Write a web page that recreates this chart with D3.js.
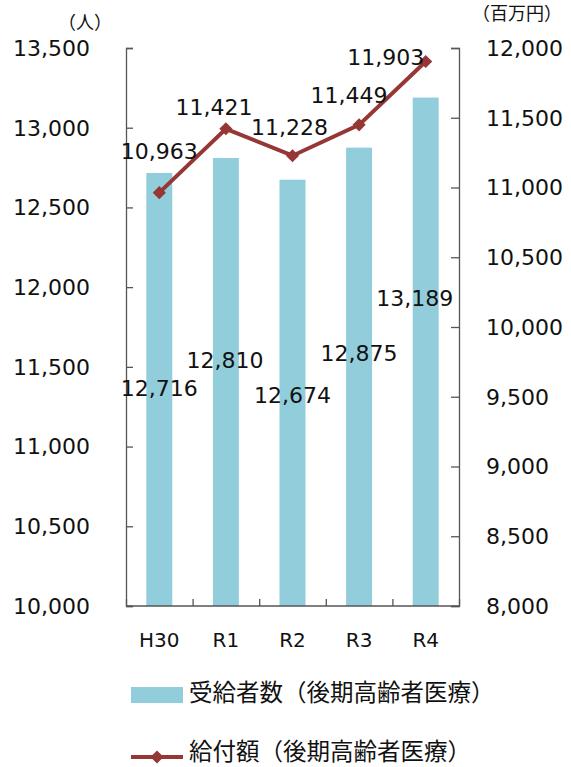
<!DOCTYPE html>
<html><head><meta charset="utf-8">
<script src="https://cdn.jsdelivr.net/npm/d3@7"></script>
<style>
body{margin:0;background:#fff;}
text{font-family:"DejaVu Sans","Noto Sans CJK JP",sans-serif;fill:#111;}
</style></head>
<body><svg id="c" width="571" height="767"></svg>
<script>
const categories = ["H30","R1","R2","R3","R4"];
const recipients = [12716,12810,12674,12875,13189];
const benefits = [10963,11421,11228,11449,11903];
const leftTicks = [10000,10500,11000,11500,12000,12500,13000,13500];
const rightTicks = [8000,8500,9000,9500,10000,10500,11000,11500,12000];
const barName = "受給者数（後期高齢者医療）";
const lineName = "給付額（後期高齢者医療）";
const leftUnit = "（人）";
const rightUnit = "（百万円）";
// label offsets (px) relative to the mark, to mimic reference placement
const barLabelPos = [[0,215],[-1,202],[0,215],[0,205],[-11,200]];
const lineLabelPos = [[0,-42],[-12,-22],[-3,-29],[-10,-30],[-40,-4]];

const svg = d3.select("#c");
const L = 126, R = 459, T = 48, B = 606;
const x = d3.scaleBand().domain(categories).range([L,R]).paddingInner(0.61).paddingOuter(0.305);
const yL = d3.scaleLinear().domain([10000,13500]).range([B,T]);
const yR = d3.scaleLinear().domain([8000,12000]).range([B,T]);
const fmt = d3.format(",");
const barColor = "#92CDDC", lineColor = "#953735";

// bars
svg.append("g").selectAll("rect").data(recipients).join("rect")
  .attr("x",(d,i)=>x(categories[i])).attr("width",x.bandwidth())
  .attr("y",d=>yL(d)).attr("height",d=>B-yL(d)).attr("fill",barColor);

// axes
const axL = svg.append("g").attr("transform",`translate(${L},0)`)
  .call(d3.axisRight(yL).tickValues(leftTicks).tickSize(7).tickFormat(""));
const axR = svg.append("g").attr("transform",`translate(${R},0)`)
  .call(d3.axisLeft(yR).tickValues(rightTicks).tickSize(8).tickFormat(""));
const xb = d3.scaleLinear().domain([0,5]).range([L,R]);
const axB = svg.append("g").attr("transform",`translate(0,${B})`)
  .call(d3.axisTop(xb).tickValues([0,1,2,3,4,5]).tickSize(7).tickFormat(""));
[axL,axR,axB].forEach(a=>{a.selectAll("path,line").attr("stroke","#555").attr("stroke-width",1.3);});
axB.select("path").attr("d",`M${L},0H${R}`);

// tick labels
svg.append("g").selectAll("text").data(leftTicks).join("text")
  .attr("x",90).attr("y",d=>yL(d)).attr("dy","0.36em").attr("text-anchor","end")
  .style("font-size","22px").text(d=>fmt(d));
svg.append("g").selectAll("text").data(rightTicks).join("text")
  .attr("x",486).attr("y",d=>yR(d)).attr("dy","0.36em").attr("text-anchor","start")
  .style("font-size","22px").text(d=>fmt(d));
svg.append("g").selectAll("text").data(categories).join("text")
  .attr("x",d=>x(d)+x.bandwidth()/2).attr("y",640).attr("dy","0.36em").attr("text-anchor","middle")
  .style("font-size","20px").text(d=>d);
svg.append("text").attr("x",85).attr("y",23).attr("dy","0.36em").attr("text-anchor","middle")
  .style("font-size","18px").style("font-family","'Noto Sans CJK JP',sans-serif").text(leftUnit);
svg.append("text").attr("x",517).attr("y",14).attr("dy","0.36em").attr("text-anchor","middle")
  .style("font-size","18px").style("font-family","'Noto Sans CJK JP',sans-serif").text(rightUnit);

// line
const cx = i=>x(categories[i])+x.bandwidth()/2;
svg.append("path").datum(benefits)
  .attr("d",d3.line().x((d,i)=>cx(i)).y(d=>yR(d)))
  .attr("fill","none").attr("stroke",lineColor).attr("stroke-width",4);
const diamond = d3.symbol().type(d3.symbolDiamond2).size(110);
svg.append("g").selectAll("path").data(benefits).join("path")
  .attr("transform",(d,i)=>`translate(${cx(i)},${yR(d)})`)
  .attr("d",diamond).attr("fill",lineColor);

// data labels
svg.append("g").selectAll("text").data(recipients).join("text")
  .attr("x",(d,i)=>cx(i)+barLabelPos[i][0]).attr("y",(d,i)=>yL(d)+barLabelPos[i][1])
  .attr("dy","0.36em").attr("text-anchor","middle").style("font-size","22px").text(d=>fmt(d));
svg.append("g").selectAll("text").data(benefits).join("text")
  .attr("x",(d,i)=>cx(i)+lineLabelPos[i][0]).attr("y",(d,i)=>yR(d)+lineLabelPos[i][1])
  .attr("dy","0.36em").attr("text-anchor","middle").style("font-size","22px").text(d=>fmt(d));

// legend
svg.append("rect").attr("x",131).attr("y",687).attr("width",52).attr("height",16).attr("fill",barColor);
svg.append("text").attr("x",189).attr("y",693).attr("dy","0.36em").style("font-size","23.5px")
  .style("font-family","'Noto Sans CJK JP',sans-serif").text(barName);
svg.append("line").attr("x1",131).attr("x2",183).attr("y1",757).attr("y2",757)
  .attr("stroke",lineColor).attr("stroke-width",4);
svg.append("path").attr("transform","translate(157,757)").attr("d",diamond).attr("fill",lineColor);
svg.append("text").attr("x",189).attr("y",752).attr("dy","0.36em").style("font-size","23.5px")
  .style("font-family","'Noto Sans CJK JP',sans-serif").text(lineName);
</script></body></html>
